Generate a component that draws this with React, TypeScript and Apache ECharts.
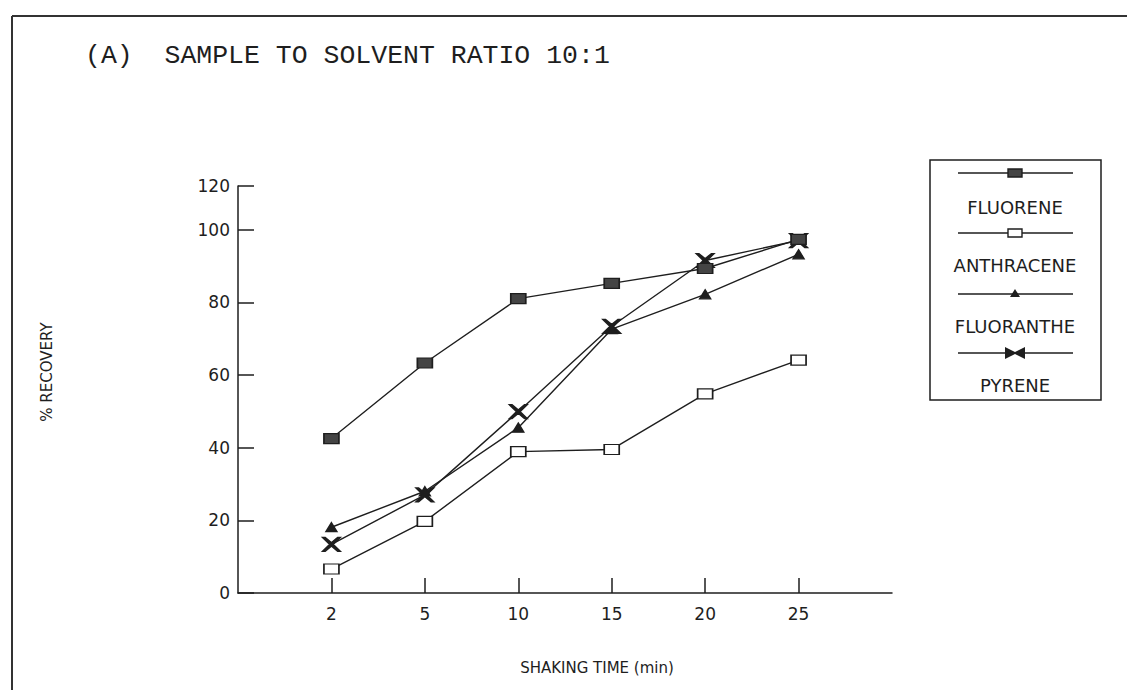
import React, { useEffect, useRef } from "react";
import * as echarts from "echarts";

const categories = ["2", "5", "10", "15", "20", "25"];
const seriesNames = ["FLUORENE", "ANTHRACENE", "FLUORANTHE", "PYRENE"];
const fluorene = [42.5, 63.3, 81, 85.2, 89.3, 97.3];
const anthracene = [6.6, 19.7, 38.9, 39.5, 54.8, 64.1];
const fluoranthene = [18.1, 28, 45.5, 72.6, 82.2, 93.2];
const pyrene = [13.4, 27, 49.9, 73.4, 91.5, 97];
const yTickValues = [0, 20, 40, 60, 80, 100, 112];
const yTickLabels = ["0", "20", "40", "60", "80", "100", "120"];

const INK = "#1e1e1e";
const SANS = "'DejaVu Sans', sans-serif";
const X_PATH =
  "path://M0,0 L3,0 L10,6 L17,0 L20,0 L12,8 L20,16 L17,16 L10,10 L3,16 L0,16 L8,8 Z";

export default function App() {
  const ref = useRef<HTMLDivElement>(null);
  useEffect(() => {
    if (!ref.current) return;
    const chart = echarts.init(ref.current, undefined, { renderer: "svg" });
    const allValues = [fluorene, anthracene, fluoranthene, pyrene];
    const symbols: any[] = [
      { symbol: "rect", symbolSize: [15, 10], color: "#444", border: INK, z: 9 },
      { symbol: "rect", symbolSize: [15, 10], color: "#fff", border: INK, z: 4 },
      { symbol: "triangle", symbolSize: [11, 9], color: INK, border: INK, z: 5 },
      { symbol: X_PATH, symbolSize: [18, 14], color: INK, border: INK, z: 6 },
    ];
    const series = allValues.map((vals, s) => ({
      name: seriesNames[s],
      type: "line",
      data: categories.map((_, i) => [i + 1, vals[i]]),
      symbol: symbols[s].symbol,
      symbolSize: symbols[s].symbolSize,
      lineStyle: { color: INK, width: 1.4 },
      itemStyle: { color: symbols[s].color, borderColor: symbols[s].border, borderWidth: 1.4 },
      z: symbols[s].z,
    }));

    // legend (drawn) geometry
    const lx0 = 958, lx1 = 1073, lmx = 1015;
    const lineYs = [173, 233, 294, 353];
    const textYs = [207, 265, 326, 385];
    const legendEls: any[] = [
      {
        type: "rect",
        shape: { x: 930, y: 160, width: 171, height: 240 },
        style: { fill: "#fff", stroke: INK, lineWidth: 1.5 },
        z: 10,
      },
    ];
    seriesNames.forEach((name, s) => {
      const y = lineYs[s];
      legendEls.push({
        type: "line",
        shape: { x1: lx0, y1: y, x2: lx1, y2: y },
        style: { stroke: INK, lineWidth: 1.4 },
        z: 11,
      });
      if (s === 0 || s === 1) {
        legendEls.push({
          type: "rect",
          shape: { x: lmx - 7, y: y - 4, width: 14, height: 8 },
          style: { fill: s === 0 ? "#444" : "#fff", stroke: INK, lineWidth: 1.4 },
          z: 12,
        });
      } else if (s === 2) {
        legendEls.push({
          type: "polygon",
          shape: { points: [[lmx - 5, y + 3], [lmx + 5, y + 3], [lmx, y - 5]] },
          style: { fill: INK },
          z: 12,
        });
      } else {
        legendEls.push({
          type: "polygon",
          shape: {
            points: [
              [lmx - 10, y - 6], [lmx, y - 1], [lmx + 10, y - 6], [lmx + 10, y + 6],
              [lmx, y + 1], [lmx - 10, y + 6],
            ],
          },
          style: { fill: INK },
          z: 12,
        });
      }
      legendEls.push({
        type: "text",
        x: lmx,
        y: textYs[s],
        style: {
          text: name,
          align: "center",
          verticalAlign: "middle",
          font: `18px ${SANS}`,
          fill: INK,
        },
        z: 12,
      });
    });

    chart.setOption({
      animation: false,
      backgroundColor: "#fff",
      grid: { left: 238, top: 186, width: 654, height: 407 },
      xAxis: {
        type: "value",
        min: 0,
        max: 7,
        axisLine: { show: true, lineStyle: { color: INK, width: 1.5 } },
        axisTick: {
          show: true,
          inside: true,
          length: 15,
          customValues: categories.map((_, i) => i + 1),
          lineStyle: { color: INK, width: 1.5 },
        },
        axisLabel: {
          customValues: categories.map((_, i) => i + 1),
          formatter: (v: number) => categories[Math.round(v) - 1] ?? "",
          color: INK,
          fontFamily: SANS,
          fontSize: 17,
          margin: 12,
        },
        splitLine: { show: false },
      },
      yAxis: {
        type: "value",
        min: 0,
        max: 112,
        axisLine: { show: true, lineStyle: { color: INK, width: 1.5 } },
        axisTick: {
          show: true,
          inside: true,
          length: 16,
          customValues: yTickValues,
          lineStyle: { color: INK, width: 1.5 },
        },
        axisLabel: {
          customValues: yTickValues,
          formatter: (v: number) => {
            const idx = yTickValues.indexOf(v);
            return idx >= 0 ? yTickLabels[idx] : "";
          },
          color: INK,
          fontFamily: SANS,
          fontSize: 17,
          margin: 8,
        },
        splitLine: { show: false },
      },
      series,
      graphic: [
        {
          type: "line",
          shape: { x1: 12, y1: 16, x2: 1127, y2: 16 },
          style: { stroke: "#333", lineWidth: 2 },
        },
        {
          type: "line",
          shape: { x1: 12, y1: 16, x2: 12, y2: 690 },
          style: { stroke: "#333", lineWidth: 2 },
        },
        {
          type: "text",
          x: 85,
          y: 56,
          style: {
            text: "(A)  SAMPLE TO SOLVENT RATIO 10:1",
            align: "left",
            verticalAlign: "middle",
            font: "26.5px 'Liberation Mono', 'Courier New', monospace",
            fill: INK,
          },
        },
        {
          type: "text",
          x: 47,
          y: 372,
          rotation: Math.PI / 2,
          style: {
            text: "% RECOVERY",
            align: "center",
            verticalAlign: "middle",
            font: `15px ${SANS}`,
            fill: INK,
          },
        },
        {
          type: "text",
          x: 597,
          y: 668,
          style: {
            text: "SHAKING TIME (min)",
            align: "center",
            verticalAlign: "middle",
            font: `15px ${SANS}`,
            fill: INK,
          },
        },
        ...legendEls,
      ],
    });
    return () => chart.dispose();
  }, []);
  return (
    <div
      ref={ref}
      style={{ position: "fixed", left: 0, top: 0, width: 1127, height: 690, background: "#fff" }}
    />
  );
}
